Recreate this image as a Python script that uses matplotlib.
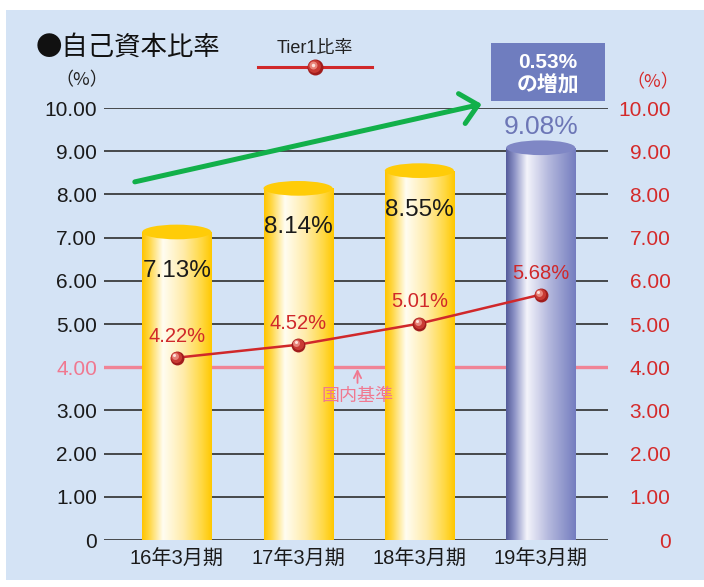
import numpy as np
import matplotlib
matplotlib.use('Agg')
import matplotlib.pyplot as plt
from matplotlib.patches import Ellipse, Rectangle
from matplotlib.colors import LinearSegmentedColormap
from matplotlib.lines import Line2D
import matplotlib.transforms as mtransforms

plt.rcParams['font.family'] = ['Liberation Sans', 'Noto Sans CJK JP']
CJK = ['Noto Sans CJK JP', 'Liberation Sans']

# ---------------- data ----------------
categories = ['16年3月期', '17年3月期', '18年3月期', '19年3月期']
capital_ratio = [7.13, 8.14, 8.55, 9.08]
tier1_ratio = [4.22, 4.52, 5.01, 5.68]
domestic_standard = 4.00
yticks = [0, 1, 2, 3, 4, 5, 6, 7, 8, 9, 10]
ytick_labels = ['0', '1.00', '2.00', '3.00', '4.00', '5.00', '6.00', '7.00', '8.00', '9.00', '10.00']
title = '●自己資本比率'
legend_label = 'Tier1比率'
standard_label = '国内基準'
unit_label = '（%）'
increase_line1 = '0.53%'
increase_line2 = 'の増加'

W, H = 704, 587
fig = plt.figure(figsize=(W / 100, H / 100), dpi=100)
fig.patch.set_facecolor('white')

def fx(px):
    return px / W

def fy(py):
    return 1 - py / H

# background panel
fig.add_artist(Rectangle((fx(6), fy(580)), (W - 6) / W, (580 - 10) / H,
                         transform=fig.transFigure, facecolor='#d4e3f5',
                         edgecolor='none', zorder=-10))

ax = fig.add_axes([fx(104), fy(540), (608 - 104) / W, (540 - 108) / H])
ax.set_facecolor('none')
for s in ax.spines.values():
    s.set_visible(False)

x = np.arange(len(categories))
bw = 0.57

# grid lines
for t in yticks:
    ax.axhline(t, color='#2e2e2e', lw=1.2, zorder=0.5)
ax.axhline(domestic_standard, color='#f08496', lw=2.4, zorder=1.5)

# bars (cylinders)
yellow_cmap = LinearSegmentedColormap.from_list(
    'yel', [(0, '#ffc400'), (0.1, '#ffd640'), (0.3, '#fffdf2'),
            (0.6, '#ffeba8'), (0.85, '#ffd944'), (1, '#ffc800')])
blue_cmap = LinearSegmentedColormap.from_list(
    'blu', [(0, '#545b9a'), (0.12, '#8c92c6'), (0.3, '#f4f4fb'),
            (0.6, '#b6bade'), (1, '#747dbf')])
grad = np.linspace(0, 1, 256).reshape(1, -1)
bars = ax.bar(x, capital_ratio, width=bw, color='none', edgecolor='none', zorder=2)
for i, b in enumerate(bars):
    cmap = blue_cmap if i == len(bars) - 1 else yellow_cmap
    x0, w, h = b.get_x(), b.get_width(), b.get_height()
    im = ax.imshow(grad, cmap=cmap, extent=(x0, x0 + w, 0, h), aspect='auto',
                   zorder=2, interpolation='bilinear')
    im.set_clip_path(b)
    top = '#7f87c5' if i == len(bars) - 1 else '#ffcc08'
    ax.add_patch(Ellipse((x0 + w / 2, h), w, 0.34, facecolor=top,
                         edgecolor='none', zorder=2.1))

# bar labels
for i, v in enumerate(capital_ratio):
    if i == len(capital_ratio) - 1:
        ax.text(x[i], v + 0.48, f'{v:.2f}%', color='#6c76b6', fontsize=19,
                ha='center', va='center', zorder=5)
    else:
        ax.text(x[i], v - 0.9, f'{v:.2f}%', color='#1a1a1a', fontsize=17.5,
                ha='center', va='center', zorder=5)

# tier1 line
line_color = '#d0282a'
ax.plot(x, tier1_ratio, color=line_color, lw=1.8, zorder=4)

def sphere(target, xs, ys, transform, size=10, z=6):
    layers = [(1.0, '#a01c1c', 0, 0), (0.8, '#c83a34', -0.4, 0.4),
              (0.5, '#e8847a', -1.2, 1.2), (0.22, '#fde2dc', -1.7, 1.7)]
    for frac, col, dx, dy in layers:
        tr = mtransforms.offset_copy(transform, fig=fig, x=dx, y=dy, units='points')
        ln = Line2D(xs, ys, transform=tr, linestyle='none', marker='o',
                    markersize=size * frac, markerfacecolor=col,
                    markeredgecolor='none', zorder=z)
        if target is fig:
            fig.add_artist(ln)
        else:
            target.add_line(ln)

sphere(ax, x, tier1_ratio, ax.transData)
for i, v in enumerate(tier1_ratio):
    ax.text(x[i], v + 0.5, f'{v:.2f}%', color=line_color, fontsize=14.5,
            ha='center', va='center', zorder=5)

# domestic standard annotation
ax.annotate(standard_label, xy=(1.49, 3.96), xytext=(1.49, 3.33),
            color='#f07890', fontsize=13, ha='center', va='center',
            family=CJK,
            arrowprops=dict(arrowstyle='->', color='#f07890', lw=1.3,
                            shrinkA=1, shrinkB=0), zorder=5)

# green arrow
ax.annotate('', xy=(2.514, 10.09), xytext=(-0.346, 8.29),
            arrowprops=dict(arrowstyle='->,head_length=0.6,head_width=0.55',
                            color='#12b04a', lw=3.6, mutation_scale=20,
                            shrinkA=0, shrinkB=0),
            annotation_clip=False, zorder=6)

ax.set_xlim(-0.6, 3.555)
ax.set_ylim(0, 10)
ax.set_xticks(x)
ax.set_xticklabels(categories, fontsize=14.5, color='#1a1a1a')
ax.set_yticks(yticks)
ax.set_yticklabels(ytick_labels, fontsize=15, color='#1a1a1a')
ax.tick_params(axis='both', length=0)
ax.tick_params(axis='y', pad=5)
ax.tick_params(axis='x', pad=7)
for lbl in ax.get_yticklabels():
    if lbl.get_text() == '4.00':
        lbl.set_color('#f07890')

ax2 = ax.twinx()
ax2.set_ylim(0, 10)
for s in ax2.spines.values():
    s.set_visible(False)
ax2.set_yticks(yticks)
ax2.set_yticklabels(ytick_labels, fontsize=15, color='#d42a2a', ha='right')
ax2.tick_params(axis='y', length=0, pad=45)

# texts
fig.text(fx(36), fy(47), title, fontsize=19, ha='left', va='center',
         color='#111111', family=CJK)
fig.text(fx(82), fy(80), unit_label, fontsize=13, ha='center', va='center',
         color='#222222', family=CJK)
fig.text(fx(653), fy(82), unit_label, fontsize=13, ha='center', va='center',
         color='#d42a2a', family=CJK)

# legend
fig.text(fx(315), fy(48), legend_label, fontsize=13, ha='center', va='center', color='#222222')
fig.add_artist(Line2D([fx(258), fx(372)], [fy(67), fy(67)], transform=fig.transFigure,
                      color=line_color, lw=2.2))
sphere(fig, [fx(315)], [fy(67)], fig.transFigure, size=11.5, z=7)

# increase box
fig.add_artist(Rectangle((fx(491), fy(101)), (605 - 491) / W, (101 - 43) / H,
                         transform=fig.transFigure, facecolor='#6f7dbf',
                         edgecolor='none', zorder=5))
fig.text(fx(548), fy(62), increase_line1, fontsize=15, fontweight='bold',
         color='white', ha='center', va='center', zorder=6)
fig.text(fx(548), fy(85), increase_line2, fontsize=15, fontweight='bold',
         color='white', ha='center', va='center', zorder=6, family=CJK)

fig.savefig('out.png', dpi=100)
